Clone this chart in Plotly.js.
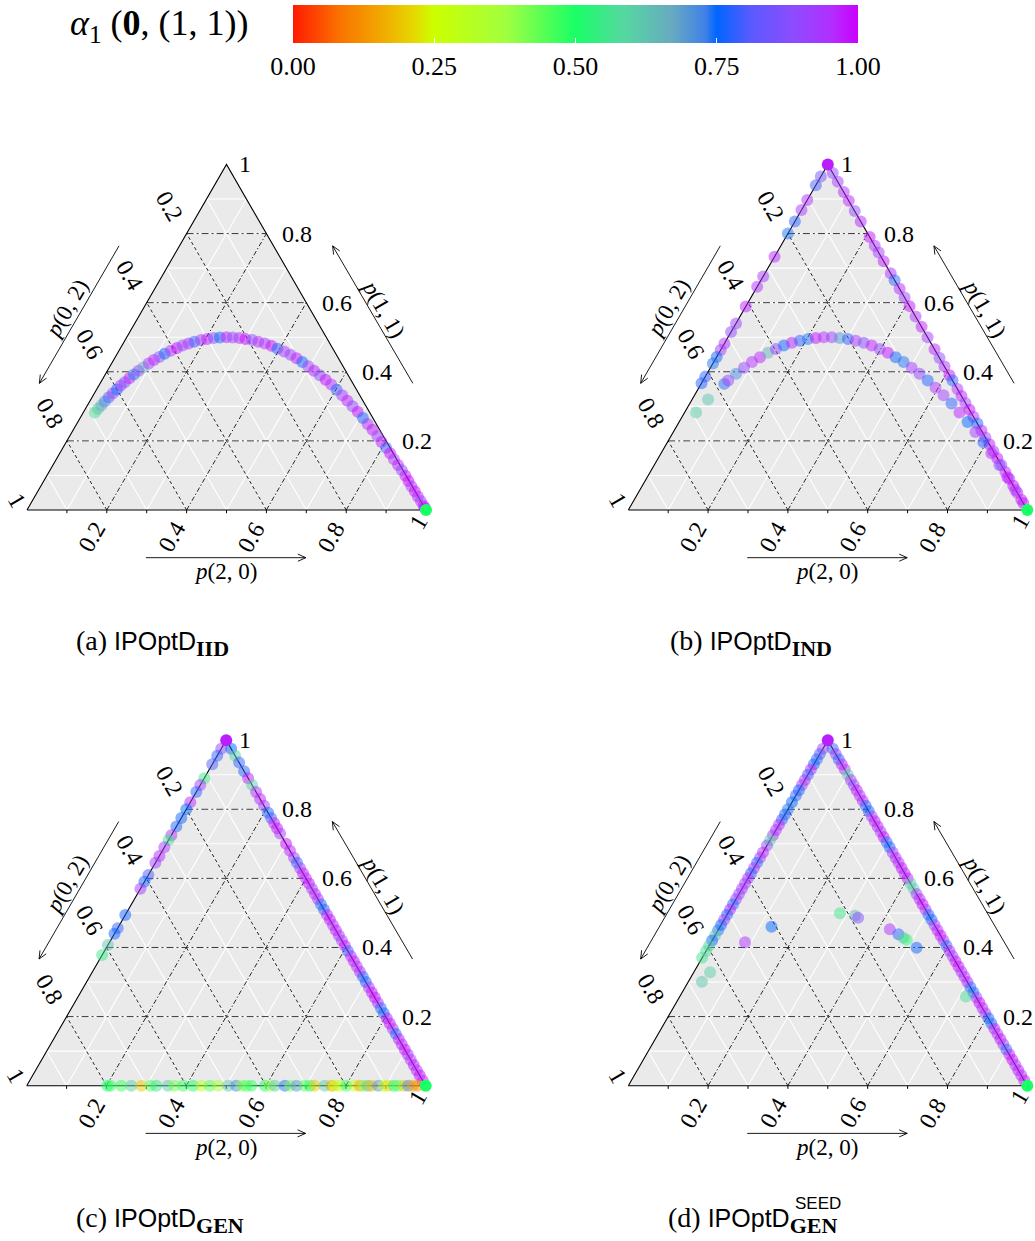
<!DOCTYPE html>
<html>
<head>
<meta charset="utf-8">
<script src="https://cdn.plot.ly/plotly-3.0.1.min.js"></script>
<style>html,body{margin:0;padding:0;background:#fff}#chart{width:1035px;height:1241px}</style>
</head>
<body>
<div id="chart"></div>
<script>
// ---------------- DATA ----------------
// colour value alpha_1(0,(1,1)) for every point; genotype frequencies p(2,0), p(1,1); p(0,2) = 1 - p(2,0) - p(1,1)
const cbTickVals = [0, 0.25, 0.5, 0.75, 1];
const cbTickText = ['0.00', '0.25', '0.50', '0.75', '1.00'];
const gridMinor = [0.1, 0.2, 0.3, 0.4, 0.5, 0.6, 0.7, 0.8, 0.9];
const tickVals = [0.2, 0.4, 0.6, 0.8];
const tickText = ['0.2', '0.4', '0.6', '0.8'];
const captions = ['(a)', '(b)', '(c)', '(d)'];
const methodName = 'IPOptD';
const methodSub = ['IID', 'IND', 'GEN', 'GEN'];
const methodSup = ['', '', '', 'SEED'];

// (a) IPOptD_IID : points [p20, p11, alpha]
const A_curve = [[0.029,0.282,0.57],[0.032,0.293,0.62],[0.035,0.303,0.66],[0.038,0.314,0.72],[0.042,0.326,0.80],[0.046,0.338,0.92],[0.051,0.349,0.75],[0.055,0.360,0.95],[0.060,0.370,0.85],[0.066,0.381,0.98],[0.072,0.392,0.74],[0.078,0.403,0.90],[0.085,0.413,0.68],[0.093,0.424,0.93],[0.101,0.434,0.97],[0.110,0.443,0.88],[0.119,0.452,0.76],[0.130,0.461,0.95],[0.141,0.469,0.99],[0.152,0.476,0.90],[0.164,0.482,0.96],[0.176,0.487,0.78],[0.190,0.492,0.93],[0.204,0.495,0.98],[0.219,0.498,0.86],[0.234,0.499,0.76],[0.250,0.500,0.97],[0.266,0.499,0.90],[0.283,0.498,0.95],[0.300,0.495,1.00],[0.318,0.492,0.88],[0.336,0.487,0.96],[0.355,0.482,0.93],[0.375,0.475,0.99],[0.394,0.467,0.77],[0.415,0.459,0.94],[0.436,0.449,0.90],[0.456,0.439,0.98],[0.476,0.428,0.76],[0.497,0.416,0.92],[0.518,0.403,0.97],[0.539,0.390,0.88],[0.560,0.377,0.99],[0.581,0.363,0.95],[0.602,0.348,0.78],[0.624,0.332,0.93],[0.645,0.316,0.97],[0.666,0.300,0.90],[0.687,0.284,0.99],[0.709,0.266,0.76],[0.729,0.249,0.95],[0.750,0.232,0.98],[0.771,0.214,0.92],[0.790,0.197,0.97],[0.810,0.180,0.80],[0.828,0.164,0.99],[0.846,0.147,0.94],[0.865,0.130,0.97],[0.882,0.115,0.90],[0.899,0.099,0.98],[0.914,0.084,1.00],[0.929,0.069,0.95],[0.945,0.054,0.99],[0.960,0.039,0.97],[0.974,0.026,0.93],[0.988,0.012,0.98],[0.994,0.006,1.00]];
const A_vertices = [[1,0,0.50]];

// (b) IPOptD_IND
const B_curve = [[0.029,0.282,0.60],[0.040,0.320,0.62],[0.058,0.365,0.74],[0.063,0.375,0.92],[0.073,0.394,0.72],[0.084,0.412,0.90],[0.096,0.428,0.95],[0.109,0.442,0.97],[0.123,0.455,0.66],[0.137,0.466,0.90],[0.152,0.476,0.76],[0.168,0.484,0.97],[0.185,0.490,0.78],[0.203,0.495,0.74],[0.221,0.498,0.98],[0.240,0.500,0.95],[0.260,0.500,0.92],[0.281,0.498,0.70],[0.303,0.495,0.78],[0.325,0.490,0.93],[0.348,0.484,0.88],[0.372,0.476,0.97],[0.397,0.466,0.90],[0.423,0.455,0.98],[0.449,0.442,0.76],[0.476,0.428,0.74],[0.504,0.412,0.93],[0.533,0.394,0.90],[0.563,0.375,0.77],[0.593,0.354,0.95],[0.624,0.332,0.92],[0.656,0.308,0.78],[0.689,0.282,0.97],[0.723,0.255,0.75],[0.757,0.226,0.93],[0.792,0.196,0.77],[0.828,0.164,0.96],[0.865,0.130,0.90],[0.903,0.095,0.99],[0.941,0.058,0.95],[0.980,0.020,0.98]];
// points on the p(0,2)=0 edge : [p11, alpha]
const B_right = [[0.975,0.90],[0.950,0.93],[0.920,0.95],[0.895,0.97],[0.865,0.90],[0.835,0.96],[0.790,0.98],[0.765,0.95],[0.745,0.93],[0.720,0.97],[0.685,0.95],[0.665,0.78],[0.640,0.96],[0.615,0.92],[0.590,0.98],[0.560,0.95],[0.530,0.97],[0.500,0.93],[0.465,0.96],[0.440,0.90],[0.415,0.95],[0.390,0.98],[0.375,0.78],[0.350,0.95],[0.330,0.97],[0.310,0.92],[0.290,0.99],[0.270,0.95],[0.250,0.77],[0.230,0.97],[0.210,0.93],[0.190,0.98],[0.170,0.95],[0.150,0.99],[0.130,0.90],[0.110,0.97],[0.090,0.95],[0.070,0.99],[0.050,0.97],[0.030,0.98]];
// points on the p(2,0)=0 edge : [p11, alpha]
const B_left = [[0.965,0.85],[0.940,0.80],[0.897,0.95],[0.868,0.93],[0.835,0.78],[0.800,0.74],[0.733,0.96],[0.676,0.93],[0.646,0.95],[0.589,0.97],[0.540,0.92],[0.515,0.90],[0.482,0.95],[0.463,0.93],[0.443,0.76],[0.424,0.74],[0.386,0.78],[0.367,0.77]];
const B_vertices = [[0,1,0.97],[1,0,0.50]];

// (c) IPOptD_GEN
const C_left = [[0.975,0.90],[0.955,0.78],[0.930,0.80],[0.890,0.55],[0.870,0.92],[0.850,0.78],[0.820,0.96],[0.800,0.75],[0.775,0.76],[0.750,0.77],[0.725,0.95],[0.711,0.55],[0.690,0.93],[0.665,0.96],[0.645,0.92],[0.610,0.80],[0.590,0.76],[0.570,0.93],[0.494,0.76],[0.456,0.78],[0.440,0.76],[0.407,0.62],[0.378,0.55]];
const C_right = [[0.975,0.75],[0.955,0.60],[0.935,0.78],[0.910,0.77],[0.890,0.98],[0.870,0.60],[0.850,0.95],[0.830,0.97],[0.810,0.93],[0.790,0.76],[0.775,0.80],[0.760,0.96],[0.745,0.98],[0.730,0.95],[0.700,0.99],[0.680,0.97],[0.660,0.94],[0.645,0.78],[0.630,0.92],[0.615,0.98],[0.600,0.96],[0.585,0.99],[0.570,0.93],[0.555,0.97],[0.540,0.95],[0.525,0.78],[0.510,0.76],[0.495,0.97],[0.480,0.99],[0.465,0.95],[0.450,0.98],[0.435,0.96],[0.420,0.93],[0.405,0.99],[0.390,0.78],[0.375,0.96],[0.360,0.98],[0.345,0.95],[0.330,0.97],[0.315,0.78],[0.300,0.76],[0.285,0.95],[0.270,0.98],[0.255,0.99],[0.240,0.96],[0.225,0.78],[0.210,0.76],[0.195,0.97],[0.180,0.99],[0.165,0.95],[0.150,0.77],[0.135,0.98],[0.120,0.96],[0.105,0.99],[0.090,0.97],[0.075,0.95],[0.060,0.98],[0.045,0.96],[0.030,0.99],[0.015,0.97]];
// points on the p(1,1)=0 edge : [p20, alpha]
const C_bottom = [[0.202,0.50],[0.210,0.48],[0.237,0.47],[0.262,0.60],[0.287,0.20],[0.310,0.45],[0.325,0.55],[0.354,0.60],[0.370,0.42],[0.392,0.48],[0.417,0.50],[0.438,0.30],[0.459,0.45],[0.480,0.35],[0.505,0.62],[0.525,0.72],[0.538,0.40],[0.550,0.46],[0.563,0.48],[0.597,0.50],[0.610,0.38],[0.622,0.60],[0.647,0.74],[0.660,0.42],[0.676,0.70],[0.697,0.45],[0.710,0.50],[0.722,0.20],[0.747,0.60],[0.764,0.15],[0.770,0.25],[0.784,0.30],[0.801,0.48],[0.822,0.28],[0.835,0.16],[0.845,0.40],[0.855,0.62],[0.864,0.18],[0.881,0.70],[0.895,0.30],[0.906,0.22],[0.920,0.52],[0.931,0.45],[0.945,0.20],[0.956,0.72],[0.968,0.14],[0.980,0.12]];
const C_vertices = [[0,1,0.97],[1,0,0.50]];

// (d) IPOptD_GEN^SEED
const D_left = [[0.975,0.93],[0.960,0.80],[0.945,0.78],[0.930,0.76],[0.915,0.97],[0.900,0.78],[0.885,0.95],[0.870,0.93],[0.855,0.76],[0.840,0.78],[0.820,0.75],[0.800,0.74],[0.785,0.77],[0.770,0.78],[0.755,0.96],[0.740,0.93],[0.725,0.95],[0.710,0.58],[0.695,0.90],[0.675,0.97],[0.660,0.93],[0.645,0.78],[0.630,0.95],[0.615,0.77],[0.600,0.96],[0.585,0.92],[0.570,0.95],[0.555,0.90],[0.540,0.93],[0.525,0.77],[0.510,0.97],[0.495,0.76],[0.480,0.93],[0.465,0.76],[0.450,0.74],[0.435,0.62],[0.420,0.76],[0.405,0.60],[0.390,0.58],[0.370,0.56]];
const D_right = [[0.975,0.78],[0.960,0.93],[0.945,0.77],[0.930,0.97],[0.915,0.95],[0.900,0.60],[0.885,0.93],[0.870,0.90],[0.855,0.98],[0.840,0.95],[0.825,0.97],[0.810,0.78],[0.795,0.76],[0.780,0.93],[0.765,0.98],[0.750,0.97],[0.735,0.95],[0.720,0.99],[0.705,0.78],[0.690,0.76],[0.675,0.93],[0.660,0.97],[0.645,0.95],[0.630,0.99],[0.615,0.96],[0.600,0.98],[0.585,0.62],[0.570,0.60],[0.555,0.93],[0.540,0.97],[0.525,0.99],[0.510,0.95],[0.495,0.78],[0.480,0.76],[0.465,0.93],[0.450,0.97],[0.435,0.99],[0.420,0.95],[0.405,0.78],[0.390,0.97],[0.375,0.93],[0.360,0.98],[0.345,0.99],[0.330,0.96],[0.315,0.95],[0.300,0.97],[0.285,0.78],[0.270,0.76],[0.255,0.93],[0.240,0.99],[0.225,0.97],[0.210,0.95],[0.195,0.77],[0.180,0.76],[0.165,0.98],[0.150,0.95],[0.135,0.99],[0.120,0.93],[0.105,0.78],[0.090,0.97],[0.075,0.99],[0.060,0.95],[0.045,0.98],[0.030,0.96],[0.015,0.99]];
const D_interior = [[0.281,0.499,0.55],[0.322,0.492,0.65],[0.333,0.486,0.88],[0.129,0.460,0.75],[0.085,0.415,0.95],[0.429,0.453,0.95],[0.458,0.438,0.78],[0.475,0.428,0.62],[0.487,0.422,0.52],[0.523,0.399,0.76],[0.717,0.258,0.58],[0.041,0.328,0.60],[0.034,0.301,0.62]];
const D_vertices = [[0,1,0.97],[1,0,0.50]];

// ---------------- STYLE / GEOMETRY ----------------
const W = 1035, H = 1241, S = 399;
const SQ = Math.sqrt(3) / 2;
const SERIF = "'Liberation Serif', 'DejaVu Serif', serif";
const SANS = "Liberation Sans";
const colorscale = [[0,'#ff1a00'],[0.08,'#fa7000'],[0.166,'#f0b000'],[0.218,'#e4dc00'],[0.25,'#ccff00'],[0.378,'#a0ff40'],[0.5,'#19ff66'],[0.585,'#55d8a0'],[0.67,'#68aac0'],[0.73,'#4080e8'],[0.75,'#0066ff'],[0.81,'#5a5aff'],[0.885,'#8c4cff'],[0.95,'#b030ff'],[1,'#cc00ff']];
const XR = [-0.065, 1.015], YR = [-0.17, 0.9];
const geom = [{bx:27, by:510}, {bx:628.3, by:510}, {bx:26.7, by:1085.7}, {bx:628.3, by:1085.7}];
const captionPx = [{x:74, y:643}, {x:668, y:643}, {x:74, y:1220}, {x:666, y:1220}];

const panels = [
  {curve: A_curve, left: [], right: [], bottom: [], interior: [], vertices: A_vertices},
  {curve: B_curve, left: B_left, right: B_right, bottom: [], interior: [], vertices: B_vertices},
  {curve: [], left: C_left, right: C_right, bottom: C_bottom, interior: [], vertices: C_vertices},
  {curve: [], left: D_left, right: D_right, bottom: [], interior: D_interior, vertices: D_vertices}
];

function P(p20, p11) { return [p20 + p11 / 2, p11 * SQ]; }

const traces = [];
const annotations = [];
const layout = {
  width: W, height: H, showlegend: false,
  margin: {l:0, r:0, t:0, b:0, autoexpand:false},
  paper_bgcolor: '#fff', plot_bgcolor: 'rgba(0,0,0,0)',
  font: {family: SERIF, color: '#000'},
  annotations: annotations
};

let scaleShown = false;

panels.forEach((pn, i) => {
  const s = i === 0 ? '' : String(i + 1);
  const g = geom[i];
  layout['xaxis' + s] = {domain: [(g.bx + XR[0] * S) / W, (g.bx + XR[1] * S) / W], range: XR, visible: false, fixedrange: true, anchor: 'y' + s};
  layout['yaxis' + s] = {domain: [1 - (g.by - YR[0] * S) / H, 1 - (g.by - YR[1] * S) / H], range: YR, visible: false, fixedrange: true, anchor: 'x' + s};
  const xa = 'x' + s, ya = 'y' + s;

  function lineTrace(segs, line) {
    const x = [], y = [];
    segs.forEach(sg => { x.push(sg[0][0], sg[1][0], null); y.push(sg[0][1], sg[1][1], null); });
    return {type:'scatter', mode:'lines', x, y, xaxis: xa, yaxis: ya, line, hoverinfo:'skip', cliponaxis:false};
  }

  // background triangle
  const tri = [P(0,0), P(1,0), P(0,1), P(0,0)];
  traces.push({type:'scatter', mode:'lines', x: tri.map(p=>p[0]), y: tri.map(p=>p[1]), fill:'toself', fillcolor:'#eaeaea', line:{width:0, color:'rgba(0,0,0,0)'}, xaxis:xa, yaxis:ya, hoverinfo:'skip'});

  // minor white grid
  const minor = [];
  gridMinor.forEach(k => {
    minor.push([P(0,k), P(1-k,k)]);
    minor.push([P(k,0), P(k,1-k)]);
    minor.push([P(1-k,0), P(0,1-k)]);
  });
  traces.push(lineTrace(minor, {color:'#ffffff', width:1.1}));

  // major grid
  traces.push(lineTrace(tickVals.map(k => [P(0,k), P(1-k,k)]), {color:'#3a3a3a', width:1, dash:'7px,3px,2px,3px'}));
  traces.push(lineTrace(tickVals.map(k => [P(k,0), P(k,1-k)]), {color:'#222', width:1, dash:'5px,2px,1.5px,2px'}));
  traces.push(lineTrace(tickVals.map(k => [P(1-k,0), P(0,1-k)]), {color:'#222', width:1, dash:'3.5px,2.5px'}));

  // outline
  traces.push({type:'scatter', mode:'lines', x: tri.map(p=>p[0]), y: tri.map(p=>p[1]), line:{color:'#000', width:1.1}, xaxis:xa, yaxis:ya, hoverinfo:'skip', cliponaxis:false});

  // small ticks on bottom edge
  traces.push(lineTrace(gridMinor.map(k => [P(k,0), [P(k,0)[0], -0.008]]), {color:'#000', width:1}));

  // arrows for axis titles
  function arrow(t, h) {
    const dx = h[0]-t[0], dy = h[1]-t[1], L = Math.hypot(dx, dy);
    const ux = dx/L, uy = dy/L, hl = 0.022, ang = 24 * Math.PI/180;
    const c = Math.cos(ang), sn = Math.sin(ang);
    const b1 = [h[0] - hl*(ux*c - uy*sn), h[1] - hl*(uy*c + ux*sn)];
    const b2 = [h[0] - hl*(ux*c + uy*sn), h[1] - hl*(uy*c - ux*sn)];
    return [[t, h], [b1, h], [b2, h]];
  }
  const arrows = [].concat(
    arrow([0.298, -0.1195], [0.699, -0.1195]),
    arrow([0.967, 0.3175], [0.766, 0.662]),
    arrow([0.2306, 0.662], [0.031, 0.3175])
  );
  traces.push(lineTrace(arrows, {color:'#000', width:0.9}));

  // points
  const groups = [];
  if (pn.left.length) groups.push(pn.left.map(r => [0, r[0], r[1]]));
  if (pn.right.length) groups.push(pn.right.map(r => [1 - r[0], r[0], r[1]]));
  if (pn.bottom.length) groups.push(pn.bottom.map(r => [r[0], 0, r[1]]));
  if (pn.curve.length) groups.push(pn.curve);
  if (pn.interior.length) groups.push(pn.interior);
  groups.forEach(gr => {
    const marker = {size:12, color: gr.map(r=>r[2]), colorscale, cmin:0, cmax:1, opacity:0.5, line:{width:0}, showscale:false};
    if (!scaleShown) {
      scaleShown = true;
      marker.showscale = true;
      marker.colorbar = {orientation:'h', x: 575.5/W, xanchor:'center', y: 1 - 5/H, yanchor:'top',
        len: 565/W, lenmode:'fraction', thickness:38, thicknessmode:'pixels', outlinewidth:0,
        tickvals: cbTickVals, ticktext: cbTickText, ticks:'inside', ticklen:5, tickwidth:1, tickcolor:'#ffffff',
        tickfont:{family:SERIF, size:26, color:'#000'}, xpad:0, ypad:0, bgcolor:'rgba(0,0,0,0)'};
    }
    traces.push({type:'scatter', mode:'markers', x: gr.map(r=>P(r[0],r[1])[0]), y: gr.map(r=>P(r[0],r[1])[1]), marker, xaxis:xa, yaxis:ya, hoverinfo:'skip', cliponaxis:false});
  });
  traces.push({type:'scatter', mode:'markers', x: pn.vertices.map(r=>P(r[0],r[1])[0]), y: pn.vertices.map(r=>P(r[0],r[1])[1]),
    marker:{size:12, color: pn.vertices.map(r=>r[2]), colorscale, cmin:0, cmax:1, opacity:1, line:{width:0}}, xaxis:xa, yaxis:ya, hoverinfo:'skip', cliponaxis:false});

  // tick labels
  const tf = {family:SERIF, size:24, color:'#000'};
  tickVals.forEach((v, j) => {
    const r = P(1-v, v);
    annotations.push({xref:xa, yref:ya, x: r[0] + 0.035, y: r[1], text: tickText[j], showarrow:false, xanchor:'left', yanchor:'middle', font:tf});
    const l = P(0, 1-v);
    annotations.push({xref:xa, yref:ya, x: l[0] - 0.0426, y: l[1] + 0.070, text: tickText[j], showarrow:false, xanchor:'center', yanchor:'middle', textangle:60, font:tf});
    const b = P(v, 0);
    annotations.push({xref:xa, yref:ya, x: b[0] - 0.0376, y: b[1] - 0.0677, text: tickText[j], showarrow:false, xanchor:'center', yanchor:'middle', textangle:-60, font:tf});
  });
  const top = P(0,1), bl = P(0,0), br = P(1,0);
  annotations.push({xref:xa, yref:ya, x: top[0] + 0.027, y: top[1], text:'1', showarrow:false, xanchor:'left', yanchor:'middle', font:tf});
  annotations.push({xref:xa, yref:ya, x: bl[0] - 0.026, y: bl[1] + 0.025, text:'1', showarrow:false, xanchor:'center', yanchor:'middle', textangle:60, font:tf});
  annotations.push({xref:xa, yref:ya, x: br[0] - 0.019, y: br[1] - 0.029, text:'1', showarrow:false, xanchor:'center', yanchor:'middle', textangle:-60, font:tf});

  // axis titles
  const af = {family:SERIF, size:23, color:'#000'};
  annotations.push({xref:xa, yref:ya, x:0.497, y:-0.1546, text:'<i>p</i>(2, 0)', showarrow:false, xanchor:'center', yanchor:'middle', font:af});
  annotations.push({xref:xa, yref:ya, x:0.893, y:0.505, text:'<i>p</i>(1, 1)', showarrow:false, xanchor:'center', yanchor:'middle', textangle:60, font:af});
  annotations.push({xref:xa, yref:ya, x:0.0995, y:0.505, text:'<i>p</i>(0, 2)', showarrow:false, xanchor:'center', yanchor:'middle', textangle:-60, font:af});

  // caption
  const cp = captionPx[i];
  annotations.push({xref:'paper', yref:'paper', x: cp.x / W, y: 1 - cp.y / H, xanchor:'left', yanchor:'middle', showarrow:false,
    text: captions[i] + ' <span style="font-family:' + SANS + ';font-size:25px">' + methodName + '</span><sub><b><span style="font-size:22px">' + methodSub[i] + '</span></b></sub>',
    font:{family:SERIF, size:28, color:'#000'}});
  if (methodSup[i]) {
    annotations.push({xref:'paper', yref:'paper', x: 793 / W, y: 1 - 1203 / H, xanchor:'left', yanchor:'middle', showarrow:false,
      text: methodSup[i], font:{family:SANS, size:17, color:'#000'}});
  }
});

// colour-bar label
annotations.push({xref:'paper', yref:'paper', x: 68 / W, y: 1 - 26 / H, xanchor:'left', yanchor:'middle', showarrow:false,
  text:'<i>α</i><sub>1</sub> (<b>0</b>, (1, 1))', font:{family:SERIF, size:36, color:'#000'}});

Plotly.newPlot('chart', traces, layout, {displayModeBar:false, staticPlot:true});
</script>
</body>
</html>
